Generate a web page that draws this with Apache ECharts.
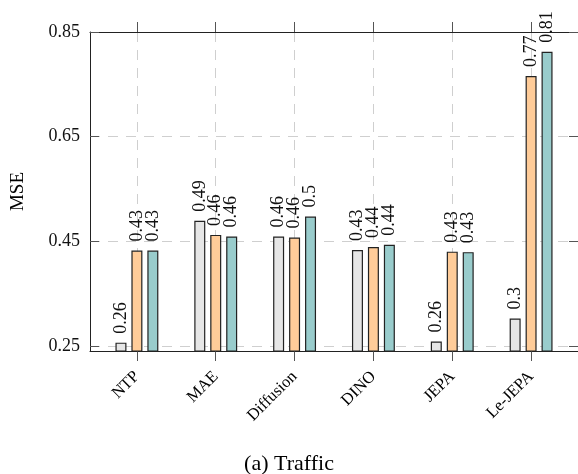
<!DOCTYPE html>
<html>
<head>
<meta charset="utf-8">
<script src="https://cdn.jsdelivr.net/npm/echarts@6/dist/echarts.min.js"></script>
<style>
html,body{margin:0;padding:0;background:#fff;}
#chart{width:578px;height:474px;}
</style>
</head>
<body>
<div id="chart"></div>
<script>
const categories = ['NTP', 'MAE', 'Diffusion', 'DINO', 'JEPA', 'Le-JEPA'];
const grayValues   = [0.256, 0.489, 0.459, 0.433, 0.258, 0.302];
const orangeValues = [0.432, 0.462, 0.457, 0.439, 0.430, 0.766];
const tealValues   = [0.432, 0.459, 0.497, 0.443, 0.429, 0.812];
const yTicks = [0.25, 0.45, 0.65, 0.85];
const yLabel = 'MSE';
const caption = '(a) Traffic';

const catIdx = categories.map((c, i) => i);
const serifTick = 'Liberation Serif';
const gridColor = '#cfcfcf';
const frameColor = '#222';

function pairs(vals) { return vals.map((v, i) => [i, v]); }
function fmt(v) { return String(Number(v.toFixed(2))); }

function barSeries(vals, color) {
  return {
    type: 'bar',
    data: pairs(vals),
    barWidth: 11,
    barGap: '45%',
    itemStyle: { color: color, borderColor: frameColor, borderWidth: 1.2 },
    label: {
      show: true,
      position: 'top',
      rotate: 90,
      align: 'left',
      verticalAlign: 'middle',
      distance: 9,
      fontFamily: serifTick,
      fontSize: 18,
      color: '#111',
      formatter: p => fmt(p.value[1])
    }
  };
}

const chart = echarts.init(document.getElementById('chart'), null, { renderer: 'canvas' });
chart.setOption({
  animation: false,
  backgroundColor: '#fff',
  title: {
    text: caption,
    left: 'center',
    top: 448,
    textStyle: { fontFamily: 'Liberation Serif', fontSize: 22, fontWeight: 'normal', color: '#000' }
  },
  grid: { left: 90, top: 32, width: 489, height: 319, containLabel: false },
  xAxis: [
    {
      type: 'value', position: 'bottom', min: -0.595, max: 5.595,
      axisLine: { show: true, onZero: false, lineStyle: { color: frameColor, width: 1 } },
      axisTick: { show: true, inside: false, length: 10, customValues: catIdx, lineStyle: { color: '#555' } },
      axisLabel: {
        show: true, customValues: catIdx, rotate: 45, margin: 23,
        fontFamily: 'Liberation Serif', fontSize: 16.5, color: '#000',
        formatter: v => categories[Math.round(v)]
      },
      splitLine: { show: true, lineStyle: { color: gridColor, type: [10, 8], width: 1 } }
    },
    {
      type: 'value', position: 'top', min: -0.595, max: 5.595,
      axisLine: { show: true, onZero: false, lineStyle: { color: frameColor, width: 1 } },
      axisTick: { show: true, inside: false, length: 10, customValues: catIdx, lineStyle: { color: '#555' } },
      axisLabel: { show: false },
      splitLine: { show: false }
    }
  ],
  yAxis: [
    {
      type: 'value', position: 'left', min: 0.24, max: 0.85,
      name: yLabel, nameLocation: 'middle', nameRotate: 90, nameGap: 62,
      nameTextStyle: { fontFamily: 'Liberation Serif', fontSize: 19, color: '#000' },
      axisLine: { show: true, onZero: false, lineStyle: { color: frameColor, width: 1 } },
      axisTick: { show: true, inside: true, length: 9, customValues: yTicks, lineStyle: { color: '#555' } },
      axisLabel: {
        show: true, customValues: yTicks, margin: 10,
        fontFamily: serifTick, fontSize: 18, color: '#111',
        formatter: v => v.toFixed(2)
      },
      splitLine: { show: true, lineStyle: { color: gridColor, type: [10, 8], width: 1 } }
    },
    {
      type: 'value', position: 'right', min: 0.24, max: 0.85,
      axisLine: { show: true, onZero: false, lineStyle: { color: frameColor, width: 1 } },
      axisTick: { show: true, inside: true, length: 9, customValues: yTicks, lineStyle: { color: '#555' } },
      axisLabel: { show: false },
      splitLine: { show: false }
    }
  ],
  series: [
    barSeries(grayValues, '#e6e6e6'),
    barSeries(orangeValues, '#ffcc99'),
    barSeries(tealValues, '#99cccc')
  ]
});
</script>
</body>
</html>
